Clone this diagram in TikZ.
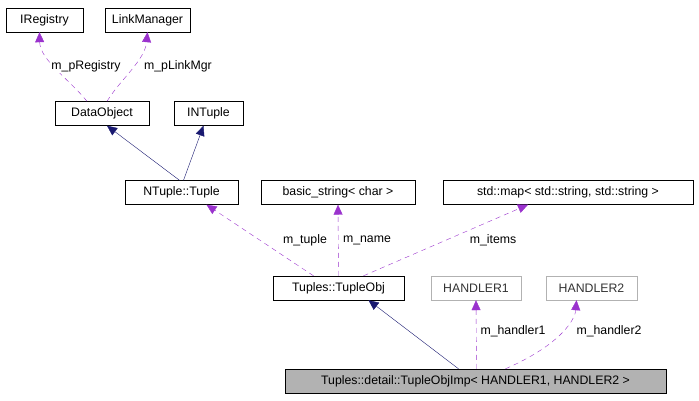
\documentclass[tikz,border=0pt]{standalone}
\usepackage{fontspec}
\setmainfont{Liberation Sans}
\usetikzlibrary{arrows.meta}
\definecolor{purp}{HTML}{9A32CD}
\definecolor{navy}{HTML}{191970}
\begin{document}
\begin{tikzpicture}[x=1pt,y=-1pt,
  box/.style={draw=black,fill=white,inner sep=0pt,minimum height=24pt,font=\fontsize{12.3}{14}\selectfont},
  gbox/.style={box,draw=gray!60},
  uses/.style={draw=purp,dashed,dash pattern=on 5pt off 4pt,-{Triangle[open,length=10pt,width=9pt,fill=purp]}},
  inh/.style={draw=navy,-{Triangle[open,length=10pt,width=9pt,fill=navy]}},
  lab/.style={font=\fontsize{12.3}{14}\selectfont,fill=white,inner sep=1pt}]
\useasboundingbox (0,0) rectangle (699,400);
\node[box,minimum width=77pt] (ireg) at (44.5,20) {IRegistry};
\node[box,minimum width=85pt] (lm) at (147.5,20) {LinkManager};
\node[box,minimum width=94pt] (dobj) at (102,113.5) {DataObject};
\node[box,minimum width=69pt] (intup) at (208.5,113.5) {INTuple};
\node[box,minimum width=113pt] (tup) at (181.5,192.5) {NTuple::Tuple};
\node[box,minimum width=154pt] (bstr) at (338,192.5) {basic\_string< char >};
\node[box,minimum width=250pt] (map) at (568,192.5) {std::map< std::string, std::string >};
\node[box,minimum width=131pt] (tobj) at (338.5,288) {Tuples::TupleObj};
\node[gbox,minimum width=90pt,text=black!80] (h1) at (476,288) {HANDLER1};
\node[gbox,minimum width=91pt,text=black!80] (h2) at (591.5,288) {HANDLER2};
\node[box,fill=gray!60,minimum width=381pt] (imp) at (475.5,381) {Tuples::detail::TupleObjImp< HANDLER1, HANDLER2 >};
\draw[uses] ([xshift=-15pt]dobj.north) .. controls (70,80) and (40,60) .. ([xshift=-5pt]ireg.south);
\draw[uses] ([xshift=5pt]dobj.north) .. controls (120,80) and (145,60) .. ([xshift=0pt]lm.south);
\node[lab] at (86,66) {m\_pRegistry};
\node[lab] at (178,66) {m\_pLinkMgr};
\draw[inh] ([xshift=-2pt]tup.north) -- ([xshift=5pt]dobj.south);
\draw[inh] ([xshift=2pt]tup.north) -- ([xshift=-5pt]intup.south);
\draw[uses] ([xshift=-25pt]tobj.north) -- ([xshift=25pt]tup.south);
\draw[uses] (tobj.north) -- (bstr.south);
\draw[uses] ([xshift=25pt]tobj.north) -- ([xshift=-40pt]map.south);
\node[lab] at (305,240) {m\_tuple};
\node[lab] at (367,240) {m\_name};
\node[lab] at (493,240) {m\_items};
\draw[inh] ([xshift=-17pt]imp.north) -- ([xshift=30pt]tobj.south);
\draw[uses] ([xshift=1pt]imp.north) -- (h1.south);
\draw[uses] ([xshift=30pt]imp.north) .. controls (560,345) and (575,320) .. ([xshift=-15pt]h2.south);
\node[lab] at (513,331) {m\_handler1};
\node[lab] at (609,331) {m\_handler2};
\end{tikzpicture}
\end{document}
